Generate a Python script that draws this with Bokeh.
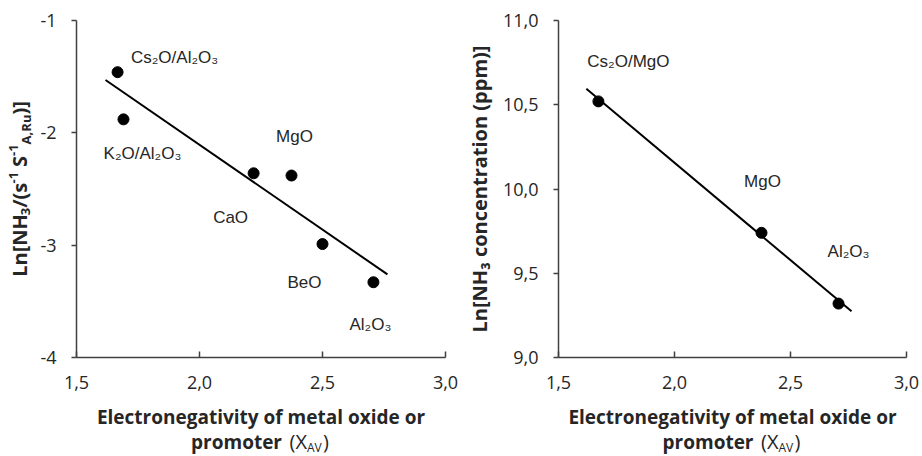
import math
from bokeh.plotting import figure
from bokeh.models import Label, FixedTicker, Range1d, LinearAxis
from bokeh.layouts import row
from bokeh.embed import file_html
from bokeh.resources import INLINE

# ---------------- data ----------------
left_names = ["Cs₂O/Al₂O₃", "K₂O/Al₂O₃", "CaO", "MgO", "BeO", "Al₂O₃"]
left_x = [1.667, 1.691, 2.22, 2.374, 2.50, 2.707]
left_y = [-1.46, -1.88, -2.36, -2.38, -2.99, -3.33]
left_fit_x = [1.618, 2.764]
left_fit_y = [-1.53, -3.26]
left_xticks = [1.5, 2.0, 2.5, 3.0]
left_xtick_labels = ["1,5", "2,0", "2,5", "3,0"]
left_yticks = [-4, -3, -2, -1]
left_ytick_labels = ["-4", "-3", "-2", "-1"]

right_names = ["Cs₂O/MgO", "MgO", "Al₂O₃"]
right_x = [1.672, 2.375, 2.707]
right_y = [10.52, 9.74, 9.32]
right_fit_x = [1.62, 2.763]
right_fit_y = [10.595, 9.274]
right_xticks = [1.5, 2.0, 2.5, 3.0]
right_xtick_labels = ["1,5", "2,0", "2,5", "3,0"]
right_yticks = [9.0, 9.5, 10.0, 10.5, 11.0]
right_ytick_labels = ["9,0", "9,5", "10,0", "10,5", "11,0"]

# label placement (screen-pixel offsets from each point)
left_label_offsets = [(57, 15), (19, -34), (-23, -44), (3, 39), (-18, -38), (-3, -42)]
right_label_offsets = [(30, 40), (1, 51), (10, 52)]

TXT = "#262626"
AX = "#404040"
TITLE_FONT = "Open Sans"
LBL_FONT = "Liberation Sans"
W, H = 461, 456

# approximate advance widths (em) of Open Sans Bold, for placing sub/superscript pieces
ADV = {"L": .56, "n": .66, "[": .33, "N": .76, "H": .77, "3": .57, "/": .39, "(": .33,
       "s": .49, "-": .32, "1": .57, " ": .26, "S": .55, "A": .69, ",": .28, "R": .67,
       "u": .66, ")": .33, "]": .33}


def adv(text, size):
    return sum(ADV.get(c, .6) for c in text) * size


def extend(lo, hi, a, b, total):
    """range so that lo sits a px and hi sits b px from the range start side"""
    s = (b - a) / (hi - lo)
    return lo - a / s, hi + (total - b) / s


def make_panel(names, xs, ys, fit_x, fit_y, xticks, xlabels, yticks, ylabels,
               offsets, plot_left):
    x0, x1 = xticks[0], xticks[-1]
    y0, y1 = yticks[0], yticks[-1]
    xr = extend(x0, x1, plot_left, W - 16, W)
    yr = extend(y0, y1, H - 357, H - 20, H)
    p = figure(width=W, height=H,
               x_range=Range1d(*xr), y_range=Range1d(*yr),
               x_axis_location=None, y_axis_location=None,
               output_backend="svg", toolbar_location=None, min_border=0)
    p.outline_line_color = None
    p.grid.visible = False
    p.background_fill_color = "white"
    p.border_fill_color = "white"

    xa = LinearAxis(fixed_location=y0, bounds=(x0, x1),
                    ticker=FixedTicker(ticks=xticks),
                    major_label_overrides={t: l for t, l in zip(xticks, xlabels)})
    ya = LinearAxis(fixed_location=x0, bounds=(y0, y1),
                    ticker=FixedTicker(ticks=yticks),
                    major_label_overrides={t: l for t, l in zip(yticks, ylabels)})
    for ax in (xa, ya):
        ax.axis_line_color = AX
        ax.axis_line_width = 1.5
        ax.major_tick_line_color = AX
        ax.major_tick_line_width = 1.5
        ax.minor_tick_line_color = None
        ax.major_label_text_font = TITLE_FONT
        ax.major_label_text_font_size = "18px"
        ax.major_label_text_color = TXT
    xa.major_tick_in = 6
    xa.major_tick_out = 0
    xa.major_label_standoff = 18
    ya.major_tick_in = 0
    ya.major_tick_out = 5
    ya.major_label_standoff = 15
    p.add_layout(xa, "below")
    p.add_layout(ya, "left")

    p.line(fit_x, fit_y, line_color="black", line_width=2)
    p.scatter(xs, ys, size=11, color="black")

    for n, x, y, (dx, dy) in zip(names, xs, ys, offsets):
        p.add_layout(Label(x=x, y=y, x_offset=dx, y_offset=dy, text=n,
                           text_align="center", text_baseline="middle",
                           text_font=LBL_FONT, text_font_size="17px",
                           text_color=TXT))

    # x-axis title (two lines, subscript AV)
    xc = (x0 + x1) / 2
    p.add_layout(Label(x=xc, y=y0, y_offset=-59, text="Electronegativity of metal oxide or",
                       text_align="center", text_baseline="alphabetic",
                       text_font=TITLE_FONT, text_font_size="19px",
                       text_font_style="bold", text_color=TXT))
    p.add_layout(Label(x=xc, y=y0, x_offset=21, y_offset=-84, text="promoter",
                       text_align="right", text_baseline="alphabetic",
                       text_font=TITLE_FONT, text_font_size="19px",
                       text_font_style="bold", text_color=TXT))
    p.add_layout(Label(x=xc, y=y0, x_offset=46, y_offset=-84, text="(X",
                       text_align="right", text_baseline="alphabetic",
                       text_font=TITLE_FONT, text_font_size="20px",
                       text_color=TXT))
    p.add_layout(Label(x=xc, y=y0, x_offset=46, y_offset=-90, text="AV",
                       text_align="left", text_baseline="alphabetic",
                       text_font=TITLE_FONT, text_font_size="12px",
                       text_color=TXT))
    p.add_layout(Label(x=xc, y=y0, x_offset=62, y_offset=-84, text=")",
                       text_align="left", text_baseline="alphabetic",
                       text_font=TITLE_FONT, text_font_size="20px",
                       text_color=TXT))
    return p, (y0 + y1) / 2


# ---------- left panel ----------
p1, yc1 = make_panel(left_names, left_x, left_y, left_fit_x, left_fit_y,
                     left_xticks, left_xtick_labels, left_yticks, left_ytick_labels,
                     left_label_offsets, 76)
lx0 = left_xticks[0]
# rotated y title built from pieces: (text, size px, shift: -1 sub, 0 normal, +1 super, gap before)
ytitle_pieces = [("Ln[NH", 20, 0, 0), ("3", 13, -1, 0), ("/(s", 20, 0, 0), ("-1", 13, 1, 0),
                 ("S", 20, 0, 5), ("-1", 13, 1, 0), ("A,Ru", 13, -1, 0), (")]", 20, 0, 0)]
base_x = -57
shift_px = {-1: 6, 0: 0, 1: -6}
total = sum(adv(t, s) + g for t, s, _, g in ytitle_pieces)
pos = -total / 2
for t, s, sh, g in ytitle_pieces:
    pos += g
    p1.add_layout(Label(x=lx0, y=yc1, x_offset=base_x + shift_px[sh], y_offset=pos, text=t,
                        angle=math.pi / 2, text_align="left", text_baseline="alphabetic",
                        text_font=TITLE_FONT, text_font_size=f"{s}px", text_font_style="bold",
                        text_color=TXT))
    pos += adv(t, s)

# ---------- right panel ----------
p2, yc2 = make_panel(right_names, right_x, right_y, right_fit_x, right_fit_y,
                     right_xticks, right_xtick_labels, right_yticks, right_ytick_labels,
                     right_label_offsets, 97)
p2.add_layout(Label(x=right_xticks[0], y=yc2, x_offset=-79, text="Ln[NH₃ concentration (ppm)]",
                    angle=math.pi / 2, text_align="center", text_baseline="alphabetic",
                    text_font=TITLE_FONT, text_font_size="20px", text_font_style="bold",
                    text_color=TXT))

layout = row(p1, p2)
open("out.html", "w").write(file_html(layout, INLINE))
